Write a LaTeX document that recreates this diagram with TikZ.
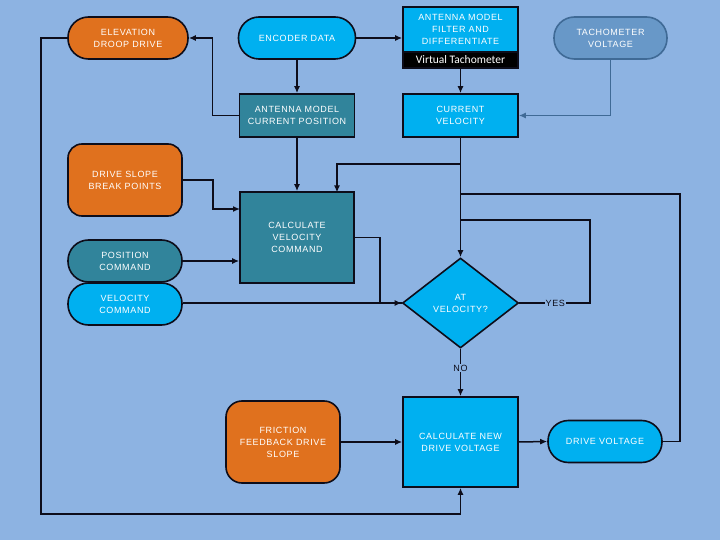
\documentclass[tikz,border=0pt]{standalone}
\usepackage{fontspec}
\setmainfont{Liberation Sans}[LetterSpace=7]
\newfontfamily\vtfont{Carlito}
\usetikzlibrary{shapes.geometric,arrows.meta}
\definecolor{bg}{HTML}{8DB3E2}
\definecolor{orng}{HTML}{E0711E}
\definecolor{blu}{HTML}{00B0F0}
\definecolor{teal2}{HTML}{31849B}
\definecolor{tachf}{HTML}{6898C8}
\definecolor{tachd}{HTML}{3F6A96}
\definecolor{ink}{HTML}{0D0D1A}
\begin{document}
\begin{tikzpicture}[x=1pt,y=-1pt,
  box/.style={draw=ink,line width=1.6pt,inner sep=0pt,align=center,text=white,
    font=\fontsize{9}{12}\selectfont},
  stad/.style={box,rounded corners=20.5pt,minimum height=42pt},
  rbox/.style={box,minimum width=115pt},
  line/.style={draw=ink,line width=1.5pt},
  arr/.style={line,-{Latex[length=7pt,width=6pt]}},
  lbl/.style={fill=bg,inner sep=1pt,text=ink,font=\fontsize{9}{12}\selectfont}]
\fill[bg] (0,0) rectangle (720,540);
\useasboundingbox (0,0) rectangle (720,540);
% nodes
\node[stad,fill=orng,minimum width=120pt] (edd) at (128,38) {ELEVATION\\DROOP DRIVE};
\node[stad,fill=blu,minimum width=117pt] (enc) at (297,38) {ENCODER DATA};
\node[rbox,fill=blu,minimum height=45pt] (filt) at (460.5,29.5) {ANTENNA MODEL\\FILTER AND\\DIFFERENTIATE};
\node[box,fill=black,minimum width=115pt,minimum height=16pt,font=\vtfont\fontsize{11.5}{12}\selectfont] (vt) at (460.5,60) {Virtual Tachometer};
\node[stad,fill=tachf,draw=tachd,minimum width=113pt] (tach) at (610.5,38) {TACHOMETER\\VOLTAGE};
\node[rbox,fill=teal2,minimum height=43pt] (acp) at (297,115.5) {ANTENNA MODEL\\CURRENT POSITION};
\node[rbox,fill=blu,minimum height=43pt] (cv) at (460.5,115.5) {CURRENT\\VELOCITY};
\node[box,fill=orng,rounded corners=14pt,minimum width=114pt,minimum height=72pt] (dsb) at (125,180) {DRIVE SLOPE\\BREAK POINTS};
\node[box,fill=teal2,minimum width=114pt,minimum height=91pt] (cvc) at (297,237.5) {CALCULATE\\VELOCITY\\COMMAND};
\node[stad,fill=teal2,minimum width=114pt] (pc) at (125,261) {POSITION\\COMMAND};
\node[stad,fill=blu,minimum width=114pt] (vc) at (125,304) {VELOCITY\\COMMAND};
\node[box,diamond,fill=blu,minimum width=116pt,minimum height=90pt] (dia) at (460.5,303) {AT\\VELOCITY?};
\node[rbox,fill=blu,minimum height=90pt] (cnd) at (460.5,442) {CALCULATE NEW\\DRIVE VOLTAGE};
\node[box,fill=orng,rounded corners=16pt,minimum width=114pt,minimum height=82pt] (ffds) at (283,442) {FRICTION\\FEEDBACK DRIVE\\SLOPE};
\node[stad,fill=blu,minimum width=114pt] (dv) at (605,441.5) {DRIVE VOLTAGE};
% junction coordinates
\coordinate (j1) at (460.5,164);
\coordinate (t1) at (337,192.5);
\coordinate (j2) at (460.5,194);
\coordinate (j3) at (460.5,220);
\coordinate (ydn) at (590,303);
\coordinate (rr) at (680,441.5);
\coordinate (dsbin) at (240,209);
\coordinate (bl) at (41,514);
% connectors
\draw[arr] (enc.east) -- (enc.east -| filt.west);
\draw[arr] (vt.south) -- (cv.north);
\draw[arr] (enc.south) -- (acp.north);
\draw[arr] (acp.west) -- ++(-26,0) |- (edd.east);
\draw[arr,draw=tachd] (tach.south) |- (cv.east);
\draw[arr] (acp.south) -- (cvc.north);
\draw[arr] (cv.south) -- (dia.north);
\draw[arr] (j1) -| (t1);
\draw[arr] (dsb.east) -- ++(30,0) |- (dsbin);
\draw[arr] (pc.east) -- (pc.east -| cvc.west);
\draw[arr] (vc.east |- dia.west) -- (dia.west);
\draw[line] (cvc.east) -- ++(25,0) |- (dia.west);
\draw[line] (dia.east) -- node[lbl,pos=0.51] {YES} (ydn) |- (j3);
\draw[arr] (dia.south) -- node[lbl,pos=0.41] {NO} (cnd.north);
\draw[arr] (ffds.east) -- (ffds.east -| cnd.west);
\draw[arr] (cnd.east) -- (dv.west);
\draw[line] (dv.east) -- (rr) |- (j2);
\draw[arr] (edd.west) -| (bl) -| (cnd.south);
\end{tikzpicture}
\end{document}
